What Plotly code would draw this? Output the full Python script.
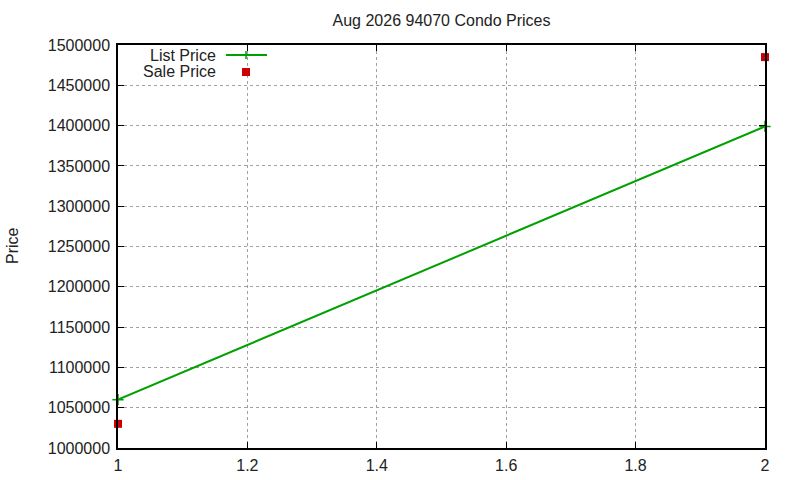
import plotly.graph_objects as go

x_vals = [1, 2]
list_price = [1060000, 1399000]
sale_price = [1030000, 1485000]
x_ticks = [1, 1.2, 1.4, 1.6, 1.8, 2]
x_tick_labels = ["1", "1.2", "1.4", "1.6", "1.8", "2"]
y_ticks = list(range(1000000, 1500001, 50000))
y_tick_labels = [str(v) for v in y_ticks]

FONT = "Liberation Sans, Arial, sans-serif"
GREEN = "#00a000"
RED = "#cc0000"
TXT = "#222222"

L, R, T, B = 118, 765, 45, 448
W, H = 800, 480

def px(xp):
    return (xp - L) / (R - L)

def py(yp):
    return (B - yp) / (B - T)

fig = go.Figure()
fig.add_trace(go.Scatter(x=x_vals, y=list_price, mode="lines+markers", name="List Price",
                         line=dict(color=GREEN, width=2),
                         marker=dict(symbol="cross-thin", size=8, line=dict(color=GREEN, width=1.5)),
                         showlegend=False, cliponaxis=False))
fig.add_trace(go.Scatter(x=x_vals, y=sale_price, mode="markers", name="Sale Price",
                         marker=dict(symbol="square", size=8, color=RED),
                         showlegend=False, cliponaxis=False))

shapes = [
    # legend samples
    dict(type="line", xref="paper", yref="paper", x0=px(226), x1=px(267), y0=py(55), y1=py(55),
         line=dict(color=GREEN, width=2)),
    dict(type="line", xref="paper", yref="paper", x0=px(246), x1=px(246), y0=py(51), y1=py(59),
         line=dict(color=GREEN, width=1.5)),
    dict(type="rect", xref="paper", yref="paper", x0=px(242), x1=px(250), y0=py(68), y1=py(76),
         line=dict(color=RED, width=0), fillcolor=RED),
]

annotations = [
    dict(text="List Price", xref="paper", yref="paper", x=px(218), y=py(55), xanchor="right",
         yanchor="middle", showarrow=False, font=dict(family=FONT, size=16, color=TXT)),
    dict(text="Sale Price", xref="paper", yref="paper", x=px(218), y=py(71), xanchor="right",
         yanchor="middle", showarrow=False, font=dict(family=FONT, size=16, color=TXT)),
    dict(text="Price", xref="paper", yref="paper", x=px(12), y=py(246), xanchor="center",
         yanchor="middle", textangle=-90, showarrow=False, font=dict(family=FONT, size=16, color=TXT)),
]

fig.update_layout(
    width=W, height=H,
    margin=dict(l=L, r=W - R, t=T, b=H - B, autoexpand=False),
    paper_bgcolor="white", plot_bgcolor="white",
    font=dict(family=FONT, size=16, color=TXT),
    title=dict(text="Aug 2026 94070 Condo Prices", x=(L + R) / 2 / W, xanchor="center",
               y=1 - 20 / H, yanchor="middle", font=dict(family=FONT, size=16, color=TXT)),
    shapes=shapes,
    annotations=annotations,
    showlegend=False,
)
fig.update_xaxes(range=[1, 2], tickvals=x_ticks, ticktext=x_tick_labels,
                 showgrid=True, gridcolor="#a0a0a0", griddash="dot", gridwidth=1,
                 zeroline=False, ticks="inside", ticklen=6, tickcolor="black",
                 showline=True, linecolor="black", linewidth=1.5, mirror="ticks",
                 ticklabelstandoff=2, automargin=False)
fig.update_yaxes(range=[1000000, 1500000], tickvals=y_ticks, ticktext=y_tick_labels,
                 showgrid=True, gridcolor="#a0a0a0", griddash="dot", gridwidth=1,
                 zeroline=False, ticks="inside", ticklen=6, tickcolor="black",
                 showline=True, linecolor="black", linewidth=1.5, mirror="ticks",
                 ticklabelstandoff=3, automargin=False)

fig.write_html("out.html", config={"displayModeBar": False},
               post_script="document.body.style.margin='0px';document.body.style.overflow='hidden';")
